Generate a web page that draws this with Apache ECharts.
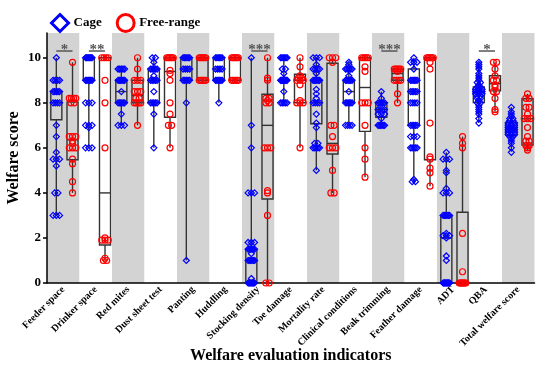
<!DOCTYPE html>
<html><head><meta charset="utf-8">
<script src="https://cdn.jsdelivr.net/npm/echarts@6/dist/echarts.min.js"></script>
<style>html,body{margin:0;padding:0;background:#fff}#c{width:550px;height:374px}</style>
</head><body><div id="c"></div>
<script>
const categories = ['Feeder space','Drinker space','Red mites','Dust sheet test','Panting','Huddling','Stocking density','Toe damage','Mortality rate','Clinical conditions','Beak trimming','Feather damage','ADT','QBA','Total welfare score'];

// box stats: [min, Q1, median, Q3, max]
const cageBox = [
  [3, 7.25, 8, 8.5, 10],
  [6, 9, 10, 10, 10],
  [7, 8, 8.5, 9, 9.5],
  [6, 8, 9, 9.5, 10],
  [1, 9, 9.5, 10, 10],
  [8, 9, 9.5, 10, 10],
  [0, 0, 1, 1.5, 10],
  [8, 9, 9, 9, 10],
  [5, 7.07, 8, 9, 10],
  [7, 8, 8.5, 9, 9.8],
  [7, 7.36, 7.7, 8, 8.5],
  [4.5, 7, 8.5, 9.5, 10],
  [0, 0, 2, 3, 5.8],
  [7.1, 8.01, 8.47, 8.7, 9.8],
  [5.84, 6.56, 6.87, 7.13, 7.81]
];
const freeBox = [
  [4, 5.47, 6.36, 8.03, 9.8],
  [1, 1.69, 4, 10, 10],
  [7, 8, 8.33, 9, 10],
  [6, 7.36, 9.39, 10, 10],
  [9, 9, 10, 10, 10],
  [9, 9, 10, 10, 10],
  [0, 3.73, 7, 8.38, 10],
  [6, 8, 9, 9.27, 10],
  [4, 5.73, 6.2, 9.76, 10],
  [4.7, 6.73, 8.68, 10, 10],
  [8, 9, 9.3, 9.5, 9.5],
  [4.3, 5.47, 10, 10, 10],
  [0, 0, 0, 3.14, 6.5],
  [7.6, 8.53, 8.85, 9.2, 9.8],
  [5.88, 6.13, 7.29, 8.18, 8.4]
];

// individual observations
const cagePoints = [
  [10,9,9,9,9,8.5,8.5,8.5,8.5,8.5,8,8,8,8,7,6.5,5.8,5.5,5.5,5.5,5.2,4,4,3,3,3],
  [10,10,10,10,10,10,10,10,9,9,9,9,9,9,8,8,8,7,7,7,6.9,6,6,6],
  [9.5,9.5,9.5,9.5,9.5,9,9,9,9,9,9,8.5,8,8,8,8,8,8,7.5,7,7,7],
  [10,10,9.8,9.5,9.5,9.5,9.5,9.5,9.2,9,9,9,9,9,8.5,8,8,8,8,8,7.5,6],
  [10,10,10,10,10,10,9.5,9.5,9.5,9.5,9,9,9,9,9,8,1],
  [10,10,10,10,10,10,9.5,9.5,9.5,9.5,9,9,9,9,9,9,8],
  [10,7,6,4,4,4,1.8,1.8,1.8,1.5,1.5,1.5,1.5,1.5,1.5,1.3,1,1,1,1,1,1,0.2,0,0,0,0,0,0,0,0,0,0],
  [10,10,10,10,10,10,9.5,9.5,9.3,9,9,9,9,9,9,9,9,8.5,8,8,8,8,8],
  [10,10,10,9.7,9.5,9.5,9.5,9.5,9.3,9,9,9,9,9,9,8.6,8.4,8.2,8,8,8,8,7.5,7.1,6.9,6.2,6.2,6,6,6,6,6,5],
  [9.8,9.7,9.5,9.5,9.5,9.5,9.5,9.2,9,9,9,9,9,9,8.5,8,8,8,8,8,8,7,7,7,7],
  [8.5,8.2,8,8,8,8,8,7.7,7.7,7.7,7.7,7.5,7.5,7.5,7.3,7,7,7,7,7,7],
  [10,9.8,9.8,9.8,9.5,9,9,9,9,9,9,8.5,8.5,8.5,8.5,8.5,8,8,8,8,7,7,7,7,7,6.5,6.5,6.5,6,6,6,6,6,4.6,4.5,4.5],
  [5.8,5.5,5.5,5.5,5,4.9,4.2,4,4,4,3,3,3,3,3,3,2.2,2.1,2.1,2.1,2,1.2,1,0,0,0,0,0,0,0,0,0,0,0,0],
  [9.8,9.7,9.6,9.5,9.3,9.2,9.1,9,8.9,8.9,8.8,8.7,8.7,8.6,8.6,8.6,8.5,8.5,8.5,8.5,8.4,8.4,8.4,8.3,8.3,8.2,8.2,8.1,8,8,7.9,7.8,7.7,7.6,7.5,7.3,7.1],
  [7.8,7.6,7.5,7.4,7.3,7.3,7.2,7.2,7.1,7.1,7.1,7,7,7,6.9,6.9,6.9,6.9,6.8,6.8,6.8,6.8,6.7,6.7,6.7,6.6,6.6,6.6,6.5,6.5,6.4,6.3,6.2,6,5.8]
];
const freePoints = [
  [9.8,8.2,8.2,8.2,8.2,8,8,6.5,6.5,6.5,6.3,6.2,6,6,6,5.5,5.3,4.5,4],
  [10,10,10,10,9,8,6,2,1.9,1.9,1.9,1.1,1,1],
  [10,9.5,9,9,9,8.5,8.5,8.5,8.2,8.2,8,8,8,8,7],
  [10,10,10,10,10,10,9.44,9.3,9,8,7.5,7,7,6],
  [10,10,10,10,10,10,9,9,9,9,9],
  [10,10,10,10,10,10,9,9,9,9,9],
  [10,9.1,9,8.2,8.2,8.1,8,8,6,6,6,4.1,4,3,0,0],
  [10,9.6,9.2,9.1,9.1,9,9,9,8.8,8.1,8,8,8,6],
  [10,10,10,9.8,7,7,6.5,6,6,6,5,4,4],
  [10,10,10,10,10,9.6,9.4,8,8,8,7,6,5.5,4.7],
  [9.5,9.5,9.5,9.5,9.5,9.4,9,9,9,9,8.4,8],
  [10,10,10,10,10,10,9.8,9.5,7.1,5.6,5.5,5.1,4.9,4.3],
  [6.5,6.2,6,2.2,0.5,0,0,0,0,0,0,0,0],
  [9.8,9.8,9.5,9.2,9,9,8.8,8.7,8.5,8.5,8.2,7.7,7.6],
  [8.4,8.2,8.2,7.8,7.8,7.5,7.3,7.3,7.3,6.9,6.5,6.3,6.3,6.1,6.1,6,5.9]
];

const sigCats = [0, 1, 6, 10, 13];
const sigLabels = ['*', '**', '***', '***', '*'];
const sigLevel = 10.3;

const yTicks = [0, 2, 4, 6, 8, 10];

// ---------- construction ----------
const CAGE_OFF = -0.213, FREE_OFF = 0.285;
const BLUE = '#0000ff', RED = '#ff0000';
const FONT = '"Liberation Serif", "Times New Roman", serif';

function swarm(points, side) {
  const out = [];
  points.forEach((arr, ci) => {
    const bins = {};
    arr.forEach(v => { const k = Math.round(v * 20); (bins[k] = bins[k] || []).push(v); });
    Object.keys(bins).forEach(k => {
      const vs = bins[k], n = vs.length;
      const step = n > 1 ? Math.min(0.1, 0.2 / (n - 1)) : 0;
      vs.forEach((v, j) => out.push([ci + side + (j - (n - 1) / 2) * step, v]));
    });
  });
  return out;
}

function boxData(box, side) { return box.map((b, i) => [i + side].concat(b)); }

function renderBox(params, api) {
  const x = api.value(0);
  const pMin = api.coord([x, api.value(1)]);
  const pQ1 = api.coord([x, api.value(2)]);
  const pMed = api.coord([x, api.value(3)]);
  const pQ3 = api.coord([x, api.value(4)]);
  const pMax = api.coord([x, api.value(5)]);
  const hw = api.size([1, 0])[0] * 0.17;
  const cx = pMin[0];
  const st = { stroke: '#333', lineWidth: 1.4, fill: null };
  return { type: 'group', children: [
    { type: 'line', shape: { x1: cx, y1: pMin[1], x2: cx, y2: pQ1[1] }, style: st },
    { type: 'line', shape: { x1: cx, y1: pQ3[1], x2: cx, y2: pMax[1] }, style: st },
    { type: 'rect', shape: { x: cx - hw, y: pQ3[1], width: 2 * hw, height: pQ1[1] - pQ3[1] }, style: st },
    { type: 'line', shape: { x1: cx - hw, y1: pMed[1], x2: cx + hw, y2: pMed[1] }, style: st }
  ]};
}

function renderSig(params, api) {
  const c = api.value(0), y = api.value(1), idx = api.value(2);
  const p1 = api.coord([c + CAGE_OFF, y]);
  const p2 = api.coord([c + FREE_OFF, y]);
  return { type: 'group', children: [
    { type: 'line', shape: { x1: p1[0], y1: p1[1], x2: p2[0], y2: p2[1] }, style: { stroke: '#555', lineWidth: 1.5 } },
    { type: 'text', x: (p1[0] + p2[0]) / 2, y: p1[1] + 7, style: { text: sigLabels[idx], fill: '#555', font: 'bold 15px ' + FONT, align: 'center', verticalAlign: 'bottom' } }
  ]};
}

const chart = echarts.init(document.getElementById('c'), null, { renderer: 'canvas' });
chart.setOption({
  animation: false,
  backgroundColor: '#fff',
  legend: {
    left: 45, top: 8, itemWidth: 17, itemHeight: 17, itemGap: 14,
    textStyle: { fontFamily: FONT, fontWeight: 'bold', fontSize: 13, color: '#000' },
    data: [
      { name: 'Cage', icon: 'diamond', itemStyle: { color: '#fff', borderColor: BLUE, borderWidth: 3 } },
      { name: 'Free-range', icon: 'circle', itemStyle: { color: '#fff', borderColor: RED, borderWidth: 3 } }
    ]
  },
  grid: { left: 47, right: 15.5, top: 33, bottom: 91, outerBoundsMode: 'none' },
  xAxis: [
    {
      type: 'category', data: categories, boundaryGap: true,
      axisLine: { lineStyle: { color: '#000', width: 1.5 } },
      axisTick: { show: false },
      axisLabel: { interval: 0, rotate: 45, fontFamily: FONT, fontWeight: 'bold', fontSize: 10, color: '#000', margin: 5 },
      splitArea: { show: true, interval: 0, areaStyle: { color: ['#d3d3d3', '#ffffff'] } },
      name: 'Welfare evaluation indicators', nameLocation: 'middle', nameGap: 65, nameMoveOverlap: false,
      nameTextStyle: { fontFamily: FONT, fontWeight: 'bold', fontSize: 16, color: '#000' }
    },
    { type: 'value', min: -0.5, max: 14.5, show: false }
  ],
  yAxis: {
    type: 'value', min: 0, max: 11.1,
    axisLine: { show: true, onZero: false, lineStyle: { color: '#000', width: 1.5 } },
    axisTick: { show: true, length: 4, customValues: yTicks, lineStyle: { color: '#000', width: 1.5 } },
    axisLabel: { customValues: yTicks, fontFamily: FONT, fontWeight: 'bold', fontSize: 13, color: '#000', margin: 6 },
    splitLine: { show: false },
    name: 'Welfare score', nameLocation: 'middle', nameGap: 25, nameMoveOverlap: false,
    nameTextStyle: { fontFamily: FONT, fontWeight: 'bold', fontSize: 16, color: '#000' }
  },
  series: [
    { name: 'Cage', type: 'custom', xAxisIndex: 1, renderItem: renderBox, data: boxData(cageBox, CAGE_OFF), encode: { x: 0, y: [1, 2, 3, 4, 5] }, z: 2 },
    { name: 'Free-range', type: 'custom', xAxisIndex: 1, renderItem: renderBox, data: boxData(freeBox, FREE_OFF), encode: { x: 0, y: [1, 2, 3, 4, 5] }, z: 2 },
    { name: 'Cage', type: 'scatter', xAxisIndex: 1, symbol: 'diamond', symbolSize: 6,
      itemStyle: { color: 'rgba(255,255,255,0)', borderColor: BLUE, borderWidth: 1.2, opacity: 1 },
      data: swarm(cagePoints, CAGE_OFF), z: 3 },
    { name: 'Free-range', type: 'scatter', xAxisIndex: 1, symbol: 'circle', symbolSize: 6,
      itemStyle: { color: 'rgba(255,255,255,0)', borderColor: RED, borderWidth: 1.2, opacity: 1 },
      data: swarm(freePoints, FREE_OFF), z: 3 },
    { name: 'sig', type: 'custom', xAxisIndex: 1, renderItem: renderSig,
      data: sigCats.map((c, i) => [c, sigLevel, i]), encode: { x: 0, y: 1 }, z: 4 }
  ]
});
</script></body></html>
